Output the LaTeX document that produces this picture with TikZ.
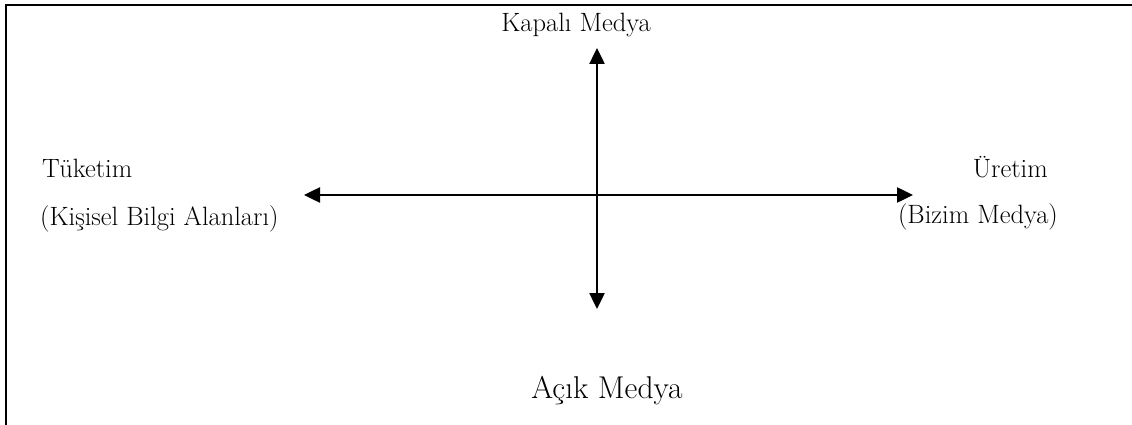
\documentclass[tikz,border=0pt]{standalone}
\usepackage{tikz}
\usetikzlibrary{positioning,arrows.meta,calc}

\begin{document}
\begin{tikzpicture}[x=1pt,y=-1pt,
  axis/.style={line width=2.5pt,{Triangle[length=16pt,width=15pt]}-{Triangle[length=16pt,width=15pt]}},
  lbl/.style={inner sep=0pt,font=\fontsize{26.5}{31}\selectfont},
  big/.style={inner sep=0pt,font=\fontsize{31.5}{37}\selectfont}]
\useasboundingbox (0,0) rectangle (1132,425);
\draw[line width=2.4pt] (6,425) -- (6,5) -- (1132,5);

% axes
\coordinate (west) at (304,195);
\coordinate (east) at (913,195);
\coordinate (north) at (597,48);
\coordinate (south) at (597,309);
\draw[axis] (west) -- (east);
\draw[axis] (north) -- (south);

% labels
\node[lbl,anchor=base] (closed) at (576,32) {Kapalı Medya};
\node[big,anchor=base] (open) at (607,398) {Açık Medya};
\node[lbl,anchor=base west] (cons) at (42,177) {Tüketim};
\node[lbl,anchor=base west] (consnote) at (40,225) {(Kişisel Bilgi Alanları)};
\node[lbl,anchor=base east] (prod) at (1048,177) {Üretim};
\node[lbl,anchor=base east] (prodnote) at (1058,223) {(Bizim Medya)};
\end{tikzpicture}
\end{document}
